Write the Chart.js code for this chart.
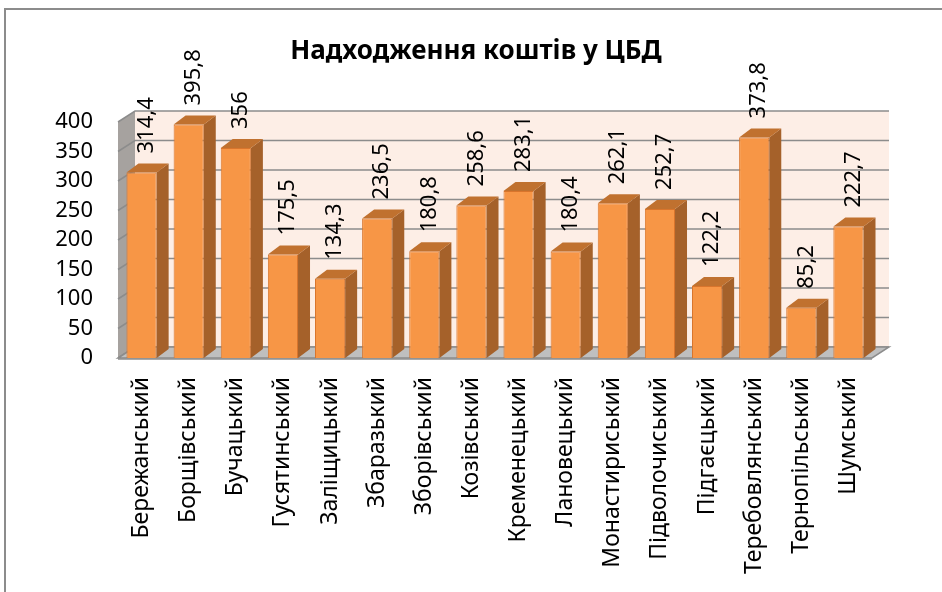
<!DOCTYPE html>
<html>
<head>
<meta charset="utf-8">
<script src="https://cdn.jsdelivr.net/npm/chart.js@4"></script>
<style>
  html, body { margin: 0; padding: 0; background: #fff; }
  #wrap { width: 942px; height: 592px; }
</style>
</head>
<body>
<div id="wrap"><canvas id="chart" width="942" height="592"></canvas></div>
<script>
const chartTitle = 'Надходження коштів у ЦБД';
const districts = ['Бережанський', 'Борщівський', 'Бучацький', 'Гусятинський', 'Заліщицький',
  'Збаразький', 'Зборівський', 'Козівський', 'Кременецький', 'Лановецький', 'Монастириський',
  'Підволочиський', 'Підгаєцький', 'Теребовлянський', 'Тернопільський', 'Шумський'];
const receipts = [314.4, 395.8, 356, 175.5, 134.3, 236.5, 180.8, 258.6, 283.1, 180.4, 262.1,
  252.7, 122.2, 373.8, 85.2, 222.7];
const yTicks = [0, 50, 100, 150, 200, 250, 300, 350, 400];

const FONT = "'Noto Sans', 'DejaVu Sans', sans-serif";
// depth of the walls and of each bar
const WALL_DX = 17, WALL_DY = -11;
const BAR_DX = 12, BAR_DY = -9;

const fake3d = {
  id: 'fake3d',
  beforeDraw(chart) {
    const ctx = chart.ctx;
    ctx.save();
    ctx.strokeStyle = '#8c8c8c';
    ctx.lineWidth = 2;
    ctx.strokeRect(5, 9, 2000, 2000);
    // title, centred on the whole frame
    ctx.fillStyle = '#000';
    ctx.font = 'bold 26px ' + FONT;
    ctx.textAlign = 'center';
    ctx.textBaseline = 'middle';
    ctx.fillText(chartTitle, 476, 52);
    ctx.restore();
  },
  beforeDatasetsDraw(chart) {
    const { ctx, chartArea: a, scales: { y } } = chart;
    const top = y.getPixelForValue(400), base = y.getPixelForValue(0);
    ctx.save();
    // back wall
    ctx.fillStyle = '#fdeee6';
    ctx.fillRect(a.left + WALL_DX, top + WALL_DY, a.right - a.left, base - top);
    // left wall
    ctx.fillStyle = '#a6a29f';
    ctx.beginPath();
    ctx.moveTo(a.left, top);
    ctx.lineTo(a.left + WALL_DX, top + WALL_DY);
    ctx.lineTo(a.left + WALL_DX, base + WALL_DY);
    ctx.lineTo(a.left, base);
    ctx.closePath();
    ctx.fill();
    // grid lines
    ctx.strokeStyle = '#8c8c8c';
    ctx.lineWidth = 1.5;
    yTicks.forEach(v => {
      const py = y.getPixelForValue(v);
      ctx.beginPath();
      ctx.moveTo(a.left, py);
      ctx.lineTo(a.left + WALL_DX, py + WALL_DY);
      ctx.lineTo(a.right + WALL_DX, py + WALL_DY);
      ctx.stroke();
    });
    // floor
    ctx.fillStyle = '#bfbfbf';
    ctx.strokeStyle = '#8c8c8c';
    ctx.beginPath();
    ctx.moveTo(a.left, base);
    ctx.lineTo(a.right, base);
    ctx.lineTo(a.right + WALL_DX, base + WALL_DY);
    ctx.lineTo(a.left + WALL_DX, base + WALL_DY);
    ctx.closePath();
    ctx.fill();
    ctx.stroke();
    ctx.beginPath();
    ctx.moveTo(a.left, base + 1);
    ctx.lineTo(a.right, base + 1);
    ctx.stroke();
    ctx.restore();
  },
  afterDatasetsDraw(chart) {
    const ctx = chart.ctx;
    const meta = chart.getDatasetMeta(0);
    ctx.save();
    meta.data.forEach((bar, i) => {
      const x1 = bar.x - bar.width / 2, x2 = bar.x + bar.width / 2;
      const yt = bar.y, yb = bar.base;
      // side face
      ctx.fillStyle = '#a5612a';
      ctx.beginPath();
      ctx.moveTo(x2, yt);
      ctx.lineTo(x2 + BAR_DX, yt + BAR_DY);
      ctx.lineTo(x2 + BAR_DX, yb + BAR_DY);
      ctx.lineTo(x2, yb);
      ctx.closePath();
      ctx.fill();
      // top face
      ctx.fillStyle = '#c0712f';
      ctx.beginPath();
      ctx.moveTo(x1, yt);
      ctx.lineTo(x1 + BAR_DX, yt + BAR_DY);
      ctx.lineTo(x2 + BAR_DX, yt + BAR_DY);
      ctx.lineTo(x2, yt);
      ctx.closePath();
      ctx.fill();
      // value label, rotated
      ctx.save();
      ctx.translate(bar.x + 5, yt + BAR_DY - 10);
      ctx.rotate(-Math.PI / 2);
      ctx.fillStyle = '#000';
      ctx.font = '22px ' + FONT;
      ctx.textAlign = 'left';
      ctx.textBaseline = 'middle';
      ctx.fillText(String(receipts[i]).replace('.', ','), 0, 0);
      ctx.restore();
    });
    ctx.restore();
  }
};

new Chart(document.getElementById('chart'), {
  type: 'bar',
  data: {
    labels: districts,
    datasets: [{
      data: receipts,
      backgroundColor: '#f79646',
      borderColor: '#d9752c',
      borderWidth: 1,
      categoryPercentage: 1,
      barPercentage: 0.64
    }]
  },
  options: {
    responsive: false,
    animation: false,
    layout: { padding: { left: 0, right: 70, top: 122, bottom: 0 } },
    plugins: {
      legend: { display: false },
      tooltip: { enabled: false },
      title: { display: false }
    },
    scales: {
      x: {
        grid: { display: false, drawTicks: false },
        border: { display: false },
        ticks: {
          color: '#000',
          font: { family: FONT, size: 23 },
          minRotation: 90,
          maxRotation: 90,
          autoSkip: false,
          padding: 19
        },
        afterFit(scale) { scale.height = 592 - 358; }
      },
      y: {
        min: 0,
        max: 400,
        grid: { display: false, drawTicks: false },
        border: { display: false },
        ticks: {
          stepSize: 50,
          color: '#000',
          font: { family: FONT, size: 22 },
          padding: 25
        },
        afterFit(scale) { scale.width = 118; }
      }
    }
  },
  plugins: [fake3d]
});
</script>
</body>
</html>
